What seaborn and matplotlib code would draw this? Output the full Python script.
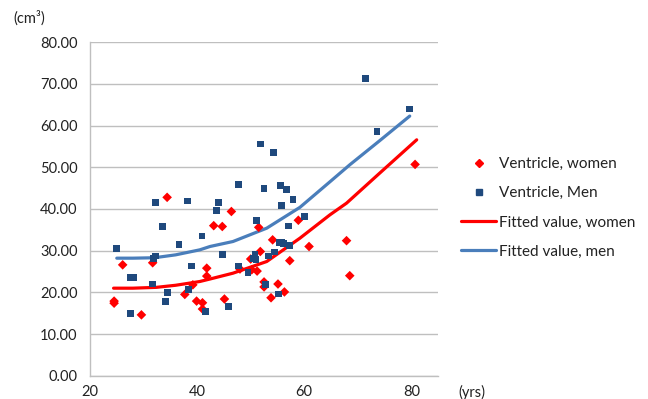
import matplotlib
matplotlib.use("Agg")
import matplotlib.pyplot as plt
import seaborn as sns
import pandas as pd
from matplotlib.lines import Line2D

sns.set_style("white")
plt.rcParams['font.family'] = ['Lato', 'DejaVu Sans']

# Ventricle volume, women (age, cm3)
women_age = [24.5, 24.5, 26.1, 29.6, 31.7, 34.4, 37.7, 39.2, 39.9, 41.0, 41.0,
             41.8, 41.8, 43.1, 44.7, 45.1, 46.4, 48.0, 50.2, 51.2, 50.0, 51.5,
             51.8, 52.5, 52.5, 53.8, 54.1, 55.1, 56.3, 57.3, 58.9, 60.9, 67.9,
             68.5, 80.7]
women_vol = [17.9, 17.4, 26.6, 14.6, 27.1, 42.8, 19.5, 21.8, 17.9, 17.5, 16.0,
             25.8, 23.9, 36.0, 35.8, 18.4, 39.4, 25.6, 25.4, 25.1, 28.0, 35.6,
             29.8, 22.5, 21.3, 18.7, 32.6, 22.0, 20.1, 27.6, 37.3, 31.0, 32.4,
             24.0, 50.7]

# Ventricle volume, men (age, cm3)
men_age = [25.0, 27.5, 28.1, 27.5, 31.6, 31.8, 32.3, 32.2, 33.5, 34.4, 34.1,
           36.6, 38.2, 38.4, 39.0, 40.9, 41.5, 43.6, 44.0, 44.7, 45.8, 47.7,
           47.7, 49.5, 50.5, 50.8, 51.0, 51.1, 51.9, 52.5, 52.8, 53.4, 54.3,
           54.5, 55.2, 55.3, 55.8, 56.1, 55.5, 55.7, 56.7, 57.0, 57.3, 57.9,
           60.1, 71.5, 73.6, 79.6]
men_vol = [30.5, 23.5, 23.5, 15.0, 22.0, 28.2, 28.7, 41.5, 35.8, 20.0, 17.8,
           31.4, 41.9, 20.6, 26.3, 33.5, 15.5, 39.6, 41.5, 29.0, 16.7, 45.8,
           26.3, 24.7, 28.2, 29.0, 27.9, 37.3, 55.6, 45.0, 21.9, 28.7, 53.5,
           29.7, 19.6, 31.9, 32.1, 31.8, 45.6, 40.8, 44.6, 35.9, 31.3, 42.3,
           38.2, 71.4, 58.5, 64.0]

# Fitted values
fit_women_age = [24.4, 28.0, 32.4, 36.0, 40.5, 42.4, 46.7, 53.0, 59.2, 64.8, 67.9, 74.0, 81.0]
fit_women_vol = [21.0, 21.0, 21.2, 21.7, 22.6, 23.2, 24.6, 27.4, 33.0, 38.6, 41.4, 48.5, 56.6]
fit_men_age = [25.0, 28.0, 32.0, 36.0, 40.5, 42.4, 46.7, 53.0, 59.2, 64.5, 68.5, 74.0, 79.7]
fit_men_vol = [28.2, 28.2, 28.3, 29.0, 30.2, 31.0, 32.2, 35.4, 40.4, 46.2, 50.6, 56.3, 62.3]

labels = ["Ventricle, women", "Ventricle, Men", "Fitted value, women", "Fitted value, men"]
RED = "#FF0000"
NAVY = "#1F497D"
BLUE = "#4A7EBB"

fig = plt.figure(figsize=(6.48, 3.99), dpi=100)
ax = fig.add_axes([0.1389, 0.0584, 0.5372, 0.8356])

dw = pd.DataFrame({"age": women_age, "vol": women_vol})
dm = pd.DataFrame({"age": men_age, "vol": men_vol})
fw = pd.DataFrame({"age": fit_women_age, "vol": fit_women_vol})
fm = pd.DataFrame({"age": fit_men_age, "vol": fit_men_vol})

sns.lineplot(data=fw, x="age", y="vol", ax=ax, color=RED, linewidth=2.3, sort=True, zorder=2)
sns.lineplot(data=fm, x="age", y="vol", ax=ax, color=BLUE, linewidth=2.3, sort=True, zorder=2)
sns.scatterplot(data=dw, x="age", y="vol", ax=ax, marker="D", color=RED, s=24,
                edgecolor="none", zorder=3)
sns.scatterplot(data=dm, x="age", y="vol", ax=ax, marker="s", color=NAVY, s=24,
                edgecolor="none", zorder=3)

ax.set_xlim(20, 85)
ax.set_ylim(0, 80)
ax.set_xticks([20, 40, 60, 80])
ax.set_yticks(range(0, 81, 10))
ax.set_yticklabels([f"{v:.2f}" for v in range(0, 81, 10)])
ax.set_xlabel("")
ax.set_ylabel("")
ax.yaxis.grid(True, color="#BFBFBF", linewidth=1)
ax.xaxis.grid(False)
ax.set_axisbelow(True)
for s in ["top", "right"]:
    ax.spines[s].set_visible(False)
for s in ["left", "bottom"]:
    ax.spines[s].set_color("#BFBFBF")
    ax.spines[s].set_linewidth(1)
ax.tick_params(axis="both", which="both", direction="out", length=4, width=1,
               color="#BFBFBF", labelsize=10.5, labelcolor="#222222", pad=3)
ax.tick_params(axis="y", pad=5)

handles = [
    Line2D([], [], linestyle="none", marker="D", color=RED, markersize=4.5),
    Line2D([], [], linestyle="none", marker="s", color=NAVY, markersize=4.5),
    Line2D([], [], color=RED, linewidth=2.3),
    Line2D([], [], color=BLUE, linewidth=2.3),
]
fig.legend(handles, labels, loc="upper left", bbox_to_anchor=(461 / 648, 1 - 157 / 399),
           frameon=False, fontsize=11, handlelength=2.3, handletextpad=0.2,
           labelspacing=1.0, borderpad=0, borderaxespad=0, labelcolor="#222222")

fig.text(13 / 648, 1 - 18 / 399, "(cm³)", fontsize=10.5, va="center", ha="left", color="#222222")
fig.text(458 / 648, 1 - 392 / 399, "(yrs)", fontsize=10.5, va="center", ha="left", color="#222222")

fig.savefig("out.png", dpi=100)
